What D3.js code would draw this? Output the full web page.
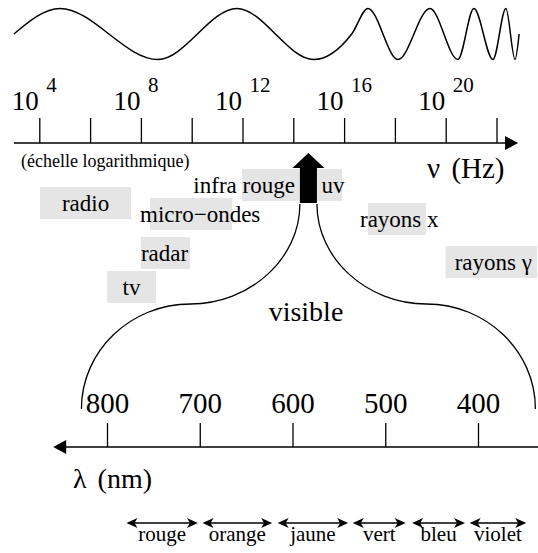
<!DOCTYPE html>
<html>
<head>
<meta charset="utf-8">
<script src="https://cdn.jsdelivr.net/npm/d3@7"></script>
<style>
body { margin: 0; background: #fff; }
svg { display: block; }
svg text { font-family: "Liberation Serif", "DejaVu Serif", Times, serif; }
</style>
</head>
<body>
<div class="chart"></div>
<script>
// frequency axis, exponents of 10 (Hz)
var nuTicks = [4, 6, 8, 10, 12, 14, 16, 18, 20, 22];
var nuLabels = [4, 8, 12, 16, 20];

// spectrum bands as exponent ranges
var bandNames = ["radio", "micro\u2212ondes", "radar", "tv", "infra rouge", "uv", "rayons x", "rayons \u03b3"];
var bandFrom = [4.03, 8.36, 8.0, 6.67, 11.98, 14.93, 16.94, 20.0];
var bandTo = [7.61, 11.59, 9.93, 8.59, 14.26, 15.92, 19.22, 23.6];
var visibleBand = [14.26, 14.93];

// wave above the axis: extrema (exponent position, level)
var waveExp = [3.0, 4.81, 8.67, 11.78, 14.81, 16.30, 16.94, 18.12, 19.38, 20.48, 21.11, 21.86, 22.37, 22.73, 22.89];
var waveLevel = [0, 1, -1, 1, -1, 0, 1, -1, 1, -1, 1, -1, 1, -1, 0];

// wavelength axis (nm)
var lambdaTicks = [800, 700, 600, 500, 400];
var colorNames = ["rouge", "orange", "jaune", "vert", "bleu", "violet"];
var colorFrom = [779, 697, 616, 535, 471, 409];
var colorTo = [702, 622, 540, 478, 414, 348];

// layout of the band boxes (not data)
var bandTop = [187, 198, 237, 271, 169, 169, 203, 246];
var bandAnchor = ["middle", "start", "start", "middle", "end", "start", "start", "start"];
var bandDx = [0, -10, 0, 0, -5, 4.5, -8, 9];

var serif = "Liberation Serif, DejaVu Serif, Times, serif";
var svgWidth = 538;
var svgHeight = 553;
var svg = d3.select(".chart").append("svg")
    .attr("width", svgWidth)
    .attr("height", svgHeight)
    .attr("font-family", serif);

var xNu = d3.scaleLinear().domain([4, 22]).range([39.3, 496.5]);
var yWave = d3.scaleLinear().domain([-1, 1]).range([59.5, 8.5]);
var xLambda = d3.scaleLinear().domain([800, 400]).range([107, 478]);

//wave
var wavePoints = waveExp.map(function(e, i){ return [e, waveLevel[i]]; });
var waveLine = d3.line()
    .x(function(d){ return xNu(d[0]); })
    .y(function(d){ return yWave(d[1]); })
    .curve(d3.curveMonotoneX);
svg.append("path")
    .attr("d", waveLine(wavePoints))
    .attr("fill", "none")
    .attr("stroke", "#000")
    .attr("stroke-width", 1.5);

//top axis
var nuY = 143;
var topAxis = d3.axisTop(xNu).tickValues(nuTicks).tickSize(25).tickSizeOuter(0).tickFormat("");
var gTop = svg.append("g").attr("transform", "translate(0," + nuY + ")").call(topAxis);
gTop.select(".domain").remove();
gTop.selectAll(".tick line").attr("stroke-width", 1.3);

var nuTip = xNu(22.85);
svg.append("line")
    .attr("x1", xNu(3)).attr("x2", nuTip - 10)
    .attr("y1", nuY).attr("y2", nuY)
    .attr("stroke", "#000").attr("stroke-width", 1.5);
svg.append("path")
    .attr("d", "M" + nuTip + "," + nuY + "L" + (nuTip - 13) + "," + (nuY - 7) + "L" + (nuTip - 13) + "," + (nuY + 7) + "Z")
    .attr("fill", "#000");

var nuLab = svg.selectAll(".nulab").data(nuLabels).enter().append("g").attr("class", "nulab");
nuLab.append("text")
    .attr("x", function(d){ return xNu(d) - 0.5; })
    .attr("y", 110)
    .attr("text-anchor", "end")
    .attr("font-size", 27)
    .text("10");
nuLab.append("text")
    .attr("x", function(d){ return xNu(d) + 7; })
    .attr("y", 92)
    .attr("font-size", 21)
    .text(function(d){ return d; });

svg.append("text")
    .attr("x", 21).attr("y", 167)
    .attr("font-size", 18)
    .text("(\u00e9chelle logarithmique)");

var nuTitle = svg.append("text")
    .attr("x", 427).attr("y", 178)
    .attr("font-size", 29);
nuTitle.append("tspan").text("\u03bd ");
nuTitle.append("tspan").attr("dx", 4).text("(Hz)");

//bands
var band = svg.selectAll(".band").data(bandNames).enter().append("g").attr("class", "band");
band.append("rect")
    .attr("x", function(d, i){ return xNu(bandFrom[i]); })
    .attr("y", function(d, i){ return bandTop[i]; })
    .attr("width", function(d, i){ return xNu(bandTo[i]) - xNu(bandFrom[i]); })
    .attr("height", 32)
    .attr("fill", "#e5e5e5");
band.append("text")
    .attr("x", function(d, i){
        var a = bandAnchor[i];
        var x0 = a == "middle" ? (xNu(bandFrom[i]) + xNu(bandTo[i])) / 2 : a == "end" ? xNu(bandTo[i]) : xNu(bandFrom[i]);
        return x0 + bandDx[i];
    })
    .attr("y", function(d, i){ return bandTop[i] + 24; })
    .attr("text-anchor", function(d, i){ return bandAnchor[i]; })
    .attr("font-size", 23)
    .text(function(d){ return d; });

//visible arrow
var sL = xNu(visibleBand[0]);
var sR = xNu(visibleBand[1]);
var sC = (sL + sR) / 2;
svg.append("path")
    .attr("d", "M" + sL + ",203L" + sL + ",168L" + (sL - 7.5) + ",168L" + sC + ",153L" + (sR + 7.5) + ",168L" + sR + ",168L" + sR + ",203Z")
    .attr("fill", "#000");

//brace
var brace = d3.path();
brace.moveTo(sL, 204);
brace.bezierCurveTo(sL, 259, sC - 118 + 59, 304, sC - 118, 304);
brace.bezierCurveTo(sC - 118 - 60, 304, sC - 227, 351, sC - 227, 409);
brace.moveTo(sR, 204);
brace.bezierCurveTo(sR, 259, sC + 118 - 59, 304, sC + 118, 304);
brace.bezierCurveTo(sC + 118 + 60, 304, sC + 227, 351, sC + 227, 409);
svg.append("path")
    .attr("d", brace.toString())
    .attr("fill", "none")
    .attr("stroke", "#000")
    .attr("stroke-width", 1.3);

svg.append("text")
    .attr("x", 306).attr("y", 321)
    .attr("text-anchor", "middle")
    .attr("font-size", 28)
    .text("visible");

//wavelength axis
var lamY = 447;
var botAxis = d3.axisTop(xLambda).tickValues(lambdaTicks).tickSize(24).tickPadding(10).tickSizeOuter(0);
var gBot = svg.append("g").attr("transform", "translate(0," + lamY + ")").call(botAxis);
gBot.select(".domain").remove();
gBot.attr("font-family", serif).attr("font-size", 29);
gBot.selectAll(".tick line").attr("stroke-width", 1.3);

var lamTip = xLambda(858);
svg.append("line")
    .attr("x1", lamTip + 10).attr("x2", xLambda(335))
    .attr("y1", lamY).attr("y2", lamY)
    .attr("stroke", "#000").attr("stroke-width", 1.5);
svg.append("path")
    .attr("d", "M" + lamTip + "," + lamY + "L" + (lamTip + 13) + "," + (lamY - 7) + "L" + (lamTip + 13) + "," + (lamY + 7) + "Z")
    .attr("fill", "#000");

var lamTitle = svg.append("text")
    .attr("x", 73).attr("y", 488)
    .attr("font-size", 28);
lamTitle.append("tspan").text("\u03bb ");
lamTitle.append("tspan").attr("dx", 4).text("(nm)");

//colour ranges
var cy = 523;
var col = svg.selectAll(".col").data(colorNames).enter().append("g").attr("class", "col");
col.append("line")
    .attr("x1", function(d, i){ return xLambda(colorFrom[i]) + 6; })
    .attr("x2", function(d, i){ return xLambda(colorTo[i]) - 6; })
    .attr("y1", cy).attr("y2", cy)
    .attr("stroke", "#000").attr("stroke-width", 1.4);
col.append("path")
    .attr("d", function(d, i){
        var a = xLambda(colorFrom[i]);
        var b = xLambda(colorTo[i]);
        return "M" + a + "," + cy + "L" + (a + 11) + "," + (cy - 5) + "L" + (a + 8) + "," + cy + "L" + (a + 11) + "," + (cy + 5) + "Z" +
               "M" + b + "," + cy + "L" + (b - 11) + "," + (cy - 5) + "L" + (b - 8) + "," + cy + "L" + (b - 11) + "," + (cy + 5) + "Z";
    })
    .attr("fill", "#000");
col.append("text")
    .attr("x", function(d, i){ return (xLambda(colorFrom[i]) + xLambda(colorTo[i])) / 2; })
    .attr("y", 541)
    .attr("text-anchor", "middle")
    .attr("font-size", 21)
    .text(function(d){ return d; });
</script>
</body>
</html>
